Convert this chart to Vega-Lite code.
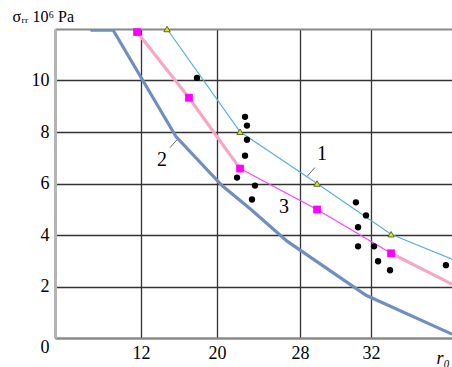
{
  "$schema": "https://vega.github.io/schema/vega-lite/v6.json",
  "width": 397,
  "height": 309,
  "autosize": {"type": "none"},
  "padding": {"left": 55, "top": 29, "right": 0, "bottom": 29},
  "background": "white",
  "config": {
    "view": {"stroke": null},
    "font": "Liberation Serif, DejaVu Serif, serif",
    "style": {
      "guide-label": {"font": "Liberation Serif, DejaVu Serif, serif"},
      "guide-title": {"font": "Liberation Serif, DejaVu Serif, serif"}
    }
  },
  "datasets": {
    "curves": [
      {"series": "1", "o": 1, "r": 14.74, "s": 12.0},
      {"series": "1", "o": 2, "r": 22.22, "s": 8.01},
      {"series": "1", "o": 3, "r": 28.96, "s": 6.0},
      {"series": "1", "o": 4, "r": 32.99, "s": 4.03},
      {"series": "1", "o": 5, "r": 36.0, "s": 3.06},
      {"series": "2", "o": 1, "r": 7.3, "s": 11.96},
      {"series": "2", "o": 2, "r": 9.4, "s": 11.96},
      {"series": "2", "o": 3, "r": 15.68, "s": 7.82},
      {"series": "2", "o": 4, "r": 20.48, "s": 5.92},
      {"series": "2", "o": 5, "r": 23.28, "s": 4.99},
      {"series": "2", "o": 6, "r": 26.75, "s": 3.76},
      {"series": "2", "o": 7, "r": 31.72, "s": 1.66},
      {"series": "2", "o": 8, "r": 36.0, "s": 0.15},
      {"series": "3a", "o": 1, "r": 11.63, "s": 11.88},
      {"series": "3a", "o": 2, "r": 17.05, "s": 9.33},
      {"series": "3a", "o": 3, "r": 22.22, "s": 6.58},
      {"series": "3b", "o": 1, "r": 22.22, "s": 6.58},
      {"series": "3b", "o": 2, "r": 28.96, "s": 4.99},
      {"series": "3b", "o": 3, "r": 32.99, "s": 3.29},
      {"series": "3c", "o": 1, "r": 32.99, "s": 3.29},
      {"series": "3c", "o": 2, "r": 36.0, "s": 2.09}
    ],
    "triangles": [
      {"r": 14.74, "s": 12.0},
      {"r": 22.22, "s": 8.01},
      {"r": 28.96, "s": 6.0},
      {"r": 32.99, "s": 4.03}
    ],
    "squares": [
      {"r": 11.63, "s": 11.88},
      {"r": 17.05, "s": 9.33},
      {"r": 22.22, "s": 6.58},
      {"r": 28.96, "s": 4.99},
      {"r": 32.99, "s": 3.29}
    ],
    "dots": [
      {"r": 17.89, "s": 10.1},
      {"r": 22.7, "s": 8.59},
      {"r": 22.89, "s": 8.25},
      {"r": 22.89, "s": 7.7},
      {"r": 22.7, "s": 7.08},
      {"r": 21.93, "s": 6.23},
      {"r": 23.66, "s": 5.92},
      {"r": 23.37, "s": 5.38},
      {"r": 31.15, "s": 5.27},
      {"r": 31.72, "s": 4.76},
      {"r": 31.27, "s": 4.3},
      {"r": 31.27, "s": 3.56},
      {"r": 32.15, "s": 3.56},
      {"r": 32.35, "s": 2.98},
      {"r": 32.94, "s": 2.63},
      {"r": 35.7, "s": 2.83}
    ],
    "labels": [
      {"label": "1", "r": 29.24, "s": 7.16},
      {"label": "2", "r": 14.21, "s": 6.93},
      {"label": "3", "r": 26.46, "s": 5.07}
    ],
    "leaders": [
      {"r": 28.84, "s": 6.62, "r2": 28.39, "s2": 6.27},
      {"r": 15.05, "s": 7.39, "r2": 15.79, "s2": 7.7}
    ]
  },
  "encoding": {
    "x": {
      "field": "r", "type": "quantitative",
      "scale": {"domain": [4, 12, 20, 28, 32, 36], "range": [0, 86, 162, 245, 316, 397], "nice": false, "zero": false}
    },
    "y": {
      "field": "s", "type": "quantitative",
      "scale": {"domain": [0, 12], "nice": false, "zero": false}
    }
  },
  "layer": [
    {
      "data": {"name": "curves"},
      "transform": [{"filter": "datum.series == '2'"}],
      "mark": {"type": "line", "clip": true, "color": "#6f8fc2", "strokeWidth": 3.2},
      "encoding": {
        "x": {
          "field": "r", "type": "quantitative",
          "axis": {
            "values": [12, 20, 28, 32],
            "grid": true, "gridColor": "#333", "gridWidth": 1.3,
            "ticks": false,
            "domainColor": "#888", "domainWidth": 2,
            "labelFontSize": 18, "labelPadding": 6, "labelColor": "#000", "labelFont": "Liberation Serif, DejaVu Serif, serif",
            "title": "r₀", "titleFont": "Liberation Serif, DejaVu Serif, serif", "titleFontStyle": "italic", "titleFontWeight": "normal",
            "titleFontSize": 18, "titleColor": "#000", "titleAnchor": "start", "titleAlign": "left",
            "titleBaseline": "alphabetic", "titleX": 381, "titleY": 25
          }
        },
        "y": {
          "field": "s", "type": "quantitative",
          "axis": {
            "values": [0, 2, 4, 6, 8, 10, 12],
            "grid": true,
            "gridColor": {"condition": {"test": "datum.value == 12", "value": "#888"}, "value": "#333"},
            "gridWidth": {"condition": {"test": "datum.value == 12", "value": 2}, "value": 1.3},
            "ticks": false,
            "domainColor": "#b4b4b4", "domainWidth": 3,
            "labelFontSize": 18, "labelPadding": 6, "labelColor": "#000", "labelFont": "Liberation Serif, DejaVu Serif, serif",
            "labelExpr": "datum.value == 12 ? '' : datum.label",
            "labelBaseline": {"condition": {"test": "datum.value == 0", "value": "top"}, "value": "middle"},
            "title": "σᵣᵣ 10⁶ Pa", "titleFont": "Liberation Serif, DejaVu Serif, serif", "titleFontWeight": "normal",
            "titleFontSize": 16, "titleColor": "#000", "titleAngle": 0, "titleAlign": "left",
            "titleBaseline": "alphabetic", "titleX": -43, "titleY": -8
          }
        },
        "order": {"field": "o"}
      }
    },
    {
      "data": {"name": "curves"},
      "transform": [{"filter": "datum.series == '3a' || datum.series == '3c'"}],
      "mark": {"type": "line", "clip": true, "color": "#f7a6c6", "strokeWidth": 3.2},
      "encoding": {"detail": {"field": "series"}, "order": {"field": "o"}}
    },
    {
      "data": {"name": "curves"},
      "transform": [{"filter": "datum.series == '3b'"}],
      "mark": {"type": "line", "clip": true, "color": "#ff40ff", "strokeWidth": 1.2},
      "encoding": {"order": {"field": "o"}}
    },
    {
      "data": {"name": "curves"},
      "transform": [{"filter": "datum.series == '1'"}],
      "mark": {"type": "line", "clip": true, "color": "#5aaee0", "strokeWidth": 1.2},
      "encoding": {"order": {"field": "o"}}
    },
    {
      "data": {"name": "leaders"},
      "mark": {"type": "rule", "color": "#666", "strokeWidth": 1},
      "encoding": {
        "x2": {"field": "r2"},
        "y2": {"field": "s2"}
      }
    },
    {
      "data": {"name": "dots"},
      "mark": {"type": "point", "filled": true, "color": "#000", "size": 40, "opacity": 1},
      "encoding": {}
    },
    {
      "data": {"name": "squares"},
      "mark": {"type": "square", "filled": true, "color": "#ff00ff", "size": 60, "opacity": 1},
      "encoding": {}
    },
    {
      "data": {"name": "triangles"},
      "mark": {"type": "point", "shape": "triangle-up", "filled": true, "fill": "#e8e800", "stroke": "#556b2f", "strokeWidth": 1, "size": 40, "opacity": 1},
      "encoding": {}
    },
    {
      "data": {"name": "labels"},
      "mark": {"type": "text", "font": "Liberation Serif, DejaVu Serif, serif", "fontSize": 20, "color": "#000", "baseline": "middle", "align": "center"},
      "encoding": {"text": {"field": "label"}}
    }
  ]
}
